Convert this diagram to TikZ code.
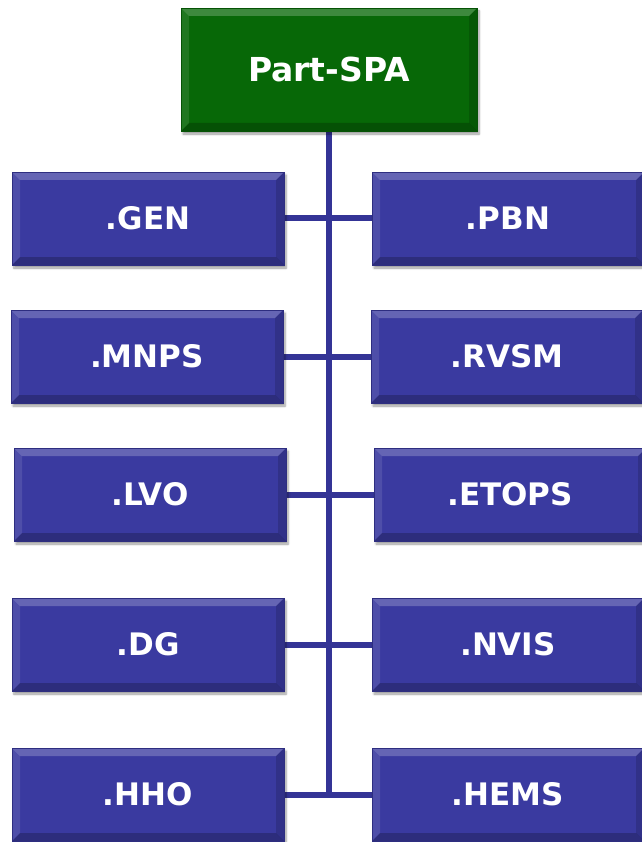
\documentclass[tikz,border=0pt]{standalone}
\usepackage{fontspec}
\setmainfont{DejaVu Sans}
\usetikzlibrary{calc,shadows.blur,backgrounds}
\definecolor{boxblue}{RGB}{58,58,160}
\definecolor{boxgreen}{RGB}{7,104,7}
\definecolor{lineblue}{RGB}{52,52,150}
\tikzset{
  bevel/.style={path picture={
    \coordinate (nw) at (path picture bounding box.north west);
    \coordinate (ne) at (path picture bounding box.north east);
    \coordinate (sw) at (path picture bounding box.south west);
    \coordinate (se) at (path picture bounding box.south east);
    \fill[white,opacity=0.22] (nw) -- (ne) -- ($(ne)+(-8pt,-8pt)$) -- ($(nw)+(8pt,-8pt)$) -- cycle;
    \fill[white,opacity=0.10] (nw) -- ($(nw)+(8pt,-8pt)$) -- ($(sw)+(8pt,8pt)$) -- (sw) -- cycle;
    \fill[black,opacity=0.22] (sw) -- (se) -- ($(se)+(-8pt,8pt)$) -- ($(sw)+(8pt,8pt)$) -- cycle;
    \fill[black,opacity=0.15] (ne) -- (se) -- ($(se)+(-8pt,8pt)$) -- ($(ne)+(-8pt,-8pt)$) -- cycle;
  }},
  subbox/.style={bevel, fill=boxblue, draw=boxblue!80!black, line width=0.6pt,
    minimum width=272pt, minimum height=93pt, inner sep=0pt,
    text=white, font=\fontsize{31pt}{36pt}\selectfont\bfseries,
    blur shadow={shadow xshift=2pt, shadow yshift=-3pt, shadow blur steps=6, shadow opacity=40}},
  topbox/.style={subbox, fill=boxgreen, draw=boxgreen!80!black,
    minimum width=296pt, minimum height=123pt, font=\fontsize{33pt}{38pt}\selectfont\bfseries},
  link/.style={draw=lineblue, line width=6pt}
}
\begin{document}
\begin{tikzpicture}
\useasboundingbox (0,0) rectangle (641pt,-842pt);
\node[topbox] (top) at (329pt,-69.5pt) {Part-SPA};
\node[subbox] (gen) at (148pt,-218.5pt) {.GEN};
\node[subbox] (pbn) at (508pt,-218.5pt) {.PBN};
\node[subbox] (mnps) at (147pt,-356.5pt) {.MNPS};
\node[subbox] (rvsm) at (507pt,-356.5pt) {.RVSM};
\node[subbox] (lvo) at (150pt,-494.5pt) {.LVO};
\node[subbox] (etops) at (510pt,-494.5pt) {.ETOPS};
\node[subbox] (dg) at (148pt,-644.5pt) {.DG};
\node[subbox] (nvis) at (508pt,-644.5pt) {.NVIS};
\node[subbox] (hho) at (148pt,-794.5pt) {.HHO};
\node[subbox] (hems) at (508pt,-794.5pt) {.HEMS};
\coordinate (trunkend) at (329pt,-794.5pt);
\begin{scope}[on background layer]
\draw[link] (top.south) -- (trunkend);
\draw[link] (gen.east) -- (pbn.west);
\draw[link] (mnps.east) -- (rvsm.west);
\draw[link] (lvo.east) -- (etops.west);
\draw[link] (dg.east) -- (nvis.west);
\draw[link] (hho.east) -- (hems.west);
\end{scope}
\end{tikzpicture}
\end{document}
